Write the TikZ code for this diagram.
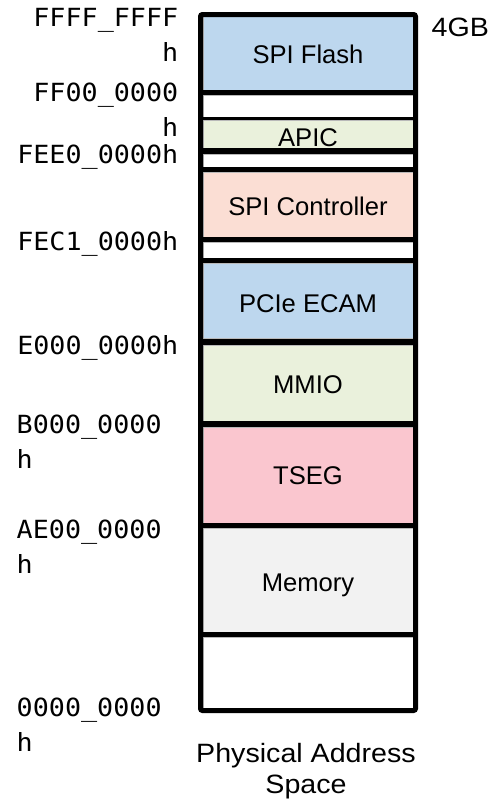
\documentclass[tikz,border=0pt]{standalone}
\usepackage{fontspec}
\newfontfamily\addrfont[FakeStretch=1.07]{DejaVu Sans Mono}
\newfontfamily\regionfont{Liberation Sans}
\newfontfamily\captionfont[FakeStretch=1.08]{Liberation Sans}

\definecolor{flashblue}{HTML}{BDD7EE}
\definecolor{apicgreen}{HTML}{EAF1DC}
\definecolor{ctlpeach}{HTML}{FBDED4}
\definecolor{tsegpink}{HTML}{FAC6CF}
\definecolor{memgray}{HTML}{F2F2F2}

\tikzset{
  band/.style={draw=gray!55, line width=1pt, minimum width=210pt, inner sep=0pt, outer sep=0pt},
  regionlabel/.style={anchor=base, inner sep=0pt, font=\regionfont\fontsize{25.6}{30}\selectfont},
  addrR/.style={anchor=base east, inner sep=0pt, font=\addrfont\fontsize{25}{30}\selectfont},
  addrL/.style={anchor=base west, inner sep=0pt, font=\addrfont\fontsize{25}{30}\selectfont},
  caption/.style={anchor=base, inner sep=0pt, font=\captionfont\fontsize{26.5}{30}\selectfont},
  divider/.style={draw=black},
  frame/.style={draw=black, line width=5pt, rounded corners=2pt}
}

\begin{document}
\begin{tikzpicture}[x=1pt, y=-1pt]
\useasboundingbox (0,0) rectangle (500,807);

% memory regions, top (4GB) to bottom (0)
\node[band, fill=flashblue, minimum height=74pt] (flash) at (308,53) {};
\node[band, fill=white,     minimum height=22pt] (gapA)  at (308,106) {};
\node[band, fill=apicgreen, minimum height=28pt] (apic)  at (308,134) {};
\node[band, fill=white,     minimum height=13pt] (gapB)  at (308,160.5) {};
\node[band, fill=ctlpeach,  minimum height=65pt] (spictl) at (308,204.5) {};
\node[band, fill=white,     minimum height=16pt] (gapC)  at (308,250) {};
\node[band, fill=flashblue, minimum height=75pt] (pcie)  at (308,300.5) {};
\node[band, fill=apicgreen, minimum height=76pt] (mmio)  at (308,383) {};
\node[band, fill=tsegpink,  minimum height=96pt] (tseg)  at (308,475) {};
\node[band, fill=memgray,   minimum height=104pt] (mem)  at (308,580) {};
\node[band, fill=white,     minimum height=71pt] (low)   at (308,672.5) {};

% heavy dividers between regions
\draw[divider, line width=5pt] (200.5,92.5) -- (415.5,92.5);
\draw[divider, line width=3.5pt] (200.5,118.5) -- (415.5,118.5);
\draw[divider, line width=6pt] (200.5,151) -- (415.5,151);
\draw[divider, line width=5pt] (200.5,169.5) -- (415.5,169.5);
\draw[divider, line width=5pt] (200.5,239.5) -- (415.5,239.5);
\draw[divider, line width=5pt] (200.5,260.5) -- (415.5,260.5);
\draw[divider, line width=6pt] (200.5,341.5) -- (415.5,341.5);
\draw[divider, line width=6pt] (200.5,424) -- (415.5,424);
\draw[divider, line width=5pt] (200.5,525.5) -- (415.5,525.5);
\draw[divider, line width=5pt] (200.5,634.5) -- (415.5,634.5);

% outer frame of the address space
\draw[frame] (200.5,14.5) rectangle (415.5,710.5);

% region names
\node[regionlabel] (tflash) at (308,63.3) {SPI Flash};
\node[regionlabel] (tapic)  at (308,146.7) {APIC};
\node[regionlabel] (tctl)   at (308,215) {SPI Controller};
\node[regionlabel] (tpcie)  at (308,312.5) {PCIe ECAM};
\node[regionlabel] (tmmio)  at (308,393) {MMIO};
\node[regionlabel] (ttseg)  at (308,484) {TSEG};
\node[regionlabel] (tmem)   at (308,591) {Memory};

% addresses
\node[addrR] (a1)  at (178.5,26.7)  {FFFF\_FFFF};
\node[addrR] (a1h) at (178.5,61.7)  {h};
\node[addrR] (a2)  at (178.5,101.7) {FF00\_0000};
\node[addrR] (a2h) at (178.5,136.7) {h};
\node[addrR] (a3)  at (178.5,163.3) {FEE0\_0000h};
\node[addrR] (a4)  at (178.5,250)   {FEC1\_0000h};
\node[addrR] (a5)  at (178.5,354)   {E000\_0000h};
\node[addrL] (a6)  at (16.5,433.3)  {B000\_0000};
\node[addrL] (a6h) at (16.5,468.3)  {h};
\node[addrL] (a7)  at (16.5,538.3)  {AE00\_0000};
\node[addrL] (a7h) at (16.5,573.3)  {h};
\node[addrL] (a8)  at (16.5,716.7)  {0000\_0000};
\node[addrL] (a8h) at (16.5,751.7)  {h};

% captions
\node[caption, anchor=base west] (top) at (431.5,36.7) {4GB};
\node[caption] (cap1) at (306,762) {Physical Address};
\node[caption] (cap2) at (306,793) {Space};
\end{tikzpicture}
\end{document}
